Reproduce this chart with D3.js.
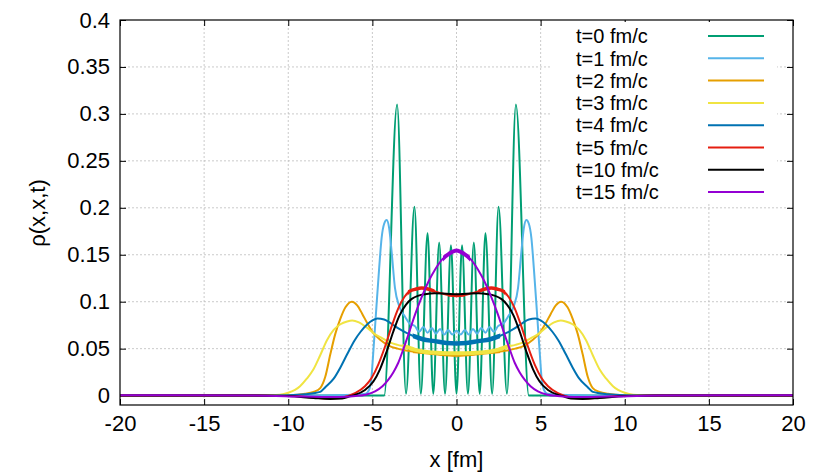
<!DOCTYPE html>
<html>
<head>
<meta charset="utf-8">
<script src="https://cdn.jsdelivr.net/npm/d3@7"></script>
<style>
  html, body { margin: 0; padding: 0; background: #fff; }
  svg { display: block; font-family: "Liberation Sans", Arial, sans-serif; }
</style>
</head>
<body>
<svg id="chart" width="830" height="475"></svg>
<script>
// ---------------- data ----------------
const xTicks = [-20, -15, -10, -5, 0, 5, 10, 15, 20];
const xTickLabels = ["-20", "-15", "-10", "-5", "0", "5", "10", "15", "20"];
const yTicks = [0, 0.05, 0.1, 0.15, 0.2, 0.25, 0.3, 0.35, 0.4];
const yTickLabels = ["0", "0.05", "0.1", "0.15", "0.2", "0.25", "0.3", "0.35", "0.4"];
const seriesNames = ["t=0 fm/c", "t=1 fm/c", "t=2 fm/c", "t=3 fm/c", "t=4 fm/c", "t=5 fm/c", "t=10 fm/c", "t=15 fm/c"];

const rho_t0 = [[-20,0],[-15,0],[-10,0],[-6,0],[-4.3,0],[-3.53,0.31],[-3.0,0.002],[-2.5,0.201],[-2.12,0.002],[-1.72,0.173],[-1.38,0.002],[-1.03,0.163],[-0.68,0.002],[-0.33,0.16],[0,0.002],[0.33,0.16],[0.68,0.002],[1.03,0.163],[1.38,0.002],[1.72,0.173],[2.12,0.002],[2.5,0.201],[3.0,0.002],[3.53,0.31],[4.3,0],[6,0],[10,0],[15,0],[20,0]];

const rho_t1 = [[-20,0],[-10,0],[-6,0.001],[-5.4,0.002],[-5.2,0.006],[-5.05,0.02],[-4.95,0.045],[-4.8,0.084],[-4.6,0.135],[-4.45,0.168],[-4.3,0.183],[-4.15,0.187],[-4.0,0.178],[-3.85,0.152],[-3.66,0.115],[-3.4,0.095],[-3.06,0.084],[-2.8,0.077],[-2.47,0.074],[-2.22,0.068],[-1.97,0.073],[-1.72,0.067],[-1.47,0.072],[-1.22,0.066],[-0.98,0.071],[-0.73,0.065],[-0.49,0.070],[-0.25,0.065],[0,0.069],[0.25,0.065],[0.49,0.070],[0.73,0.065],[0.98,0.071],[1.22,0.066],[1.47,0.072],[1.72,0.067],[1.97,0.073],[2.22,0.068],[2.47,0.074],[2.8,0.077],[3.06,0.084],[3.4,0.095],[3.66,0.115],[3.85,0.152],[4.0,0.178],[4.15,0.187],[4.3,0.183],[4.45,0.168],[4.6,0.135],[4.8,0.084],[4.95,0.045],[5.05,0.02],[5.2,0.006],[5.4,0.002],[6,0.001],[10,0],[20,0]];

const rho_t2 = [[-20,0],[-12,0],[-10,0.0005],[-9,0.002],[-8.5,0.004],[-8.1,0.008],[-7.8,0.02],[-7.5,0.044],[-7.2,0.066],[-6.9,0.082],[-6.6,0.094],[-6.22,0.1],[-5.9,0.096],[-5.6,0.087],[-5.3,0.077],[-5.0,0.068],[-4.5,0.059],[-4.0,0.053],[-3.5,0.05],[-3.0,0.048],[-2.0,0.046],[-1.0,0.044],[0,0.043],[1.0,0.044],[2.0,0.046],[3.0,0.048],[3.5,0.05],[4.0,0.053],[4.5,0.059],[5.0,0.068],[5.3,0.077],[5.6,0.087],[5.9,0.096],[6.22,0.1],[6.6,0.094],[6.9,0.082],[7.2,0.066],[7.5,0.044],[7.8,0.02],[8.1,0.008],[8.5,0.004],[9,0.002],[10,0.0005],[12,0],[20,0]];

const rho_t3 = [[-20,0],[-12,0],[-10.5,0.001],[-10,0.003],[-9.3,0.01],[-8.9,0.018],[-8.5,0.028],[-8.1,0.043],[-7.7,0.059],[-7.3,0.07],[-6.9,0.076],[-6.5,0.079],[-6.2,0.08],[-5.8,0.078],[-5.3,0.072],[-4.9,0.066],[-4.4,0.061],[-4.0,0.057],[-3.5,0.054],[-3.0,0.052],[-2.5,0.049],[-2.0,0.047],[-1.0,0.0455],[0,0.045],[1.0,0.0455],[2.0,0.047],[2.5,0.049],[3.0,0.052],[3.5,0.054],[4.0,0.057],[4.4,0.061],[4.9,0.066],[5.3,0.072],[5.8,0.078],[6.2,0.08],[6.5,0.079],[6.9,0.076],[7.3,0.07],[7.7,0.059],[8.1,0.043],[8.5,0.028],[8.9,0.018],[9.3,0.01],[10,0.003],[10.5,0.001],[12,0],[20,0]];

const rho_t4 = [[-20,0],[-12,0],[-10,0.0005],[-9,0.0015],[-8.1,0.004],[-7.8,0.009],[-7.3,0.018],[-6.9,0.03],[-6.5,0.044],[-6.05,0.059],[-5.7,0.068],[-5.3,0.076],[-5.0,0.08],[-4.7,0.082],[-4.3,0.081],[-3.9,0.077],[-3.4,0.071],[-3.0,0.067],[-2.5,0.063],[-2.0,0.06],[-1.3,0.058],[-0.6,0.056],[0,0.0555],[0.6,0.056],[1.3,0.058],[2.0,0.06],[2.5,0.063],[3.0,0.067],[3.4,0.071],[3.9,0.077],[4.3,0.081],[4.7,0.082],[5.0,0.08],[5.3,0.076],[5.7,0.068],[6.05,0.059],[6.5,0.044],[6.9,0.03],[7.3,0.018],[7.8,0.009],[8.1,0.004],[9,0.0015],[10,0.0005],[12,0],[20,0]];

const rho_t5 = [[-20,0],[-12,0],[-10,-0.0005],[-8.5,-0.002],[-7.6,-0.003],[-6.9,-0.0025],[-6.4,0.0],[-6.0,0.003],[-5.44,0.01],[-5.04,0.019],[-4.65,0.033],[-4.25,0.052],[-3.85,0.074],[-3.46,0.093],[-3.1,0.105],[-2.8,0.111],[-2.4,0.1135],[-2.07,0.1145],[-1.7,0.1135],[-1.28,0.111],[-0.8,0.1085],[-0.4,0.107],[0,0.1065],[0.4,0.107],[0.8,0.1085],[1.28,0.111],[1.7,0.1135],[2.07,0.1145],[2.4,0.1135],[2.8,0.111],[3.1,0.105],[3.46,0.093],[3.85,0.074],[4.25,0.052],[4.65,0.033],[5.04,0.019],[5.44,0.01],[6.0,0.003],[6.4,0.0],[6.9,-0.0025],[7.6,-0.003],[8.5,-0.002],[10,-0.0005],[12,0],[20,0]];

const rho_t10 = [[-20,0],[-12,0],[-10,-0.0005],[-8.5,-0.0025],[-7.5,-0.0035],[-6.8,-0.003],[-6.3,-0.0005],[-6.0,0.001],[-5.44,0.006],[-4.94,0.015],[-4.55,0.028],[-4.15,0.047],[-3.76,0.068],[-3.4,0.085],[-3.0,0.097],[-2.66,0.103],[-2.25,0.1065],[-1.87,0.108],[-1.3,0.109],[-0.6,0.1085],[0,0.108],[0.6,0.1085],[1.3,0.109],[1.87,0.108],[2.25,0.1065],[2.66,0.103],[3.0,0.097],[3.4,0.085],[3.76,0.068],[4.15,0.047],[4.55,0.028],[4.94,0.015],[5.44,0.006],[6.0,0.001],[6.3,-0.0005],[6.8,-0.003],[7.5,-0.0035],[8.5,-0.0025],[10,-0.0005],[12,0],[20,0]];

const rho_t15 = [[-20,0.0005],[-12,0],[-9,-0.001],[-7,-0.0015],[-6,-0.0005],[-5.4,0.001],[-4.84,0.0046],[-4.4,0.01],[-4.05,0.017],[-3.75,0.025],[-3.46,0.035],[-3.15,0.05],[-2.86,0.065],[-2.45,0.087],[-2.07,0.105],[-1.65,0.122],[-1.28,0.134],[-0.85,0.145],[-0.45,0.151],[0,0.1545],[0.45,0.151],[0.85,0.145],[1.28,0.134],[1.65,0.122],[2.07,0.105],[2.45,0.087],[2.86,0.065],[3.15,0.05],[3.46,0.035],[3.75,0.025],[4.05,0.017],[4.4,0.01],[4.84,0.0046],[5.4,0.001],[6,-0.0005],[7,-0.0015],[9,-0.001],[12,0],[20,0.0005]];

const seriesData = [rho_t0, rho_t1, rho_t2, rho_t3, rho_t4, rho_t5, rho_t10, rho_t15];

// ---------------- styles ----------------
const colors = ["#009e73", "#56b4e9", "#e69f00", "#f0e442", "#0072b2", "#e51e10", "#000000", "#9400d3"];
// x-ranges (in fm) where the reference line looks thicker (dense small-scale jitter)
const thickStyle = [
  null, null,
  { ranges: [[-2.6, 2.6]], width: 3 },
  { ranges: [[-3.2, 3.2]], width: 4 },
  { ranges: [[-2.6, 2.6]], width: 4.5 },
  { ranges: [[-2.9, -1.3], [1.3, 2.9], [-0.5, 0.5]], width: 3.5 },
  null,
  { ranges: [[-0.8, 0.8]], width: 4 }
];

const W = 830, H = 475;
const m = { left: 120, right: 37, top: 20, bottom: 70 };
const pw = W - m.left - m.right, ph = H - m.top - m.bottom;

const svg = d3.select("#chart");
svg.append("rect").attr("width", W).attr("height", H).attr("fill", "#fff");

const x = d3.scaleLinear().domain([-20, 20]).range([0, pw]);
const y = d3.scaleLinear().domain([-0.01, 0.4]).range([ph, 0]);

const defs = svg.append("defs");
const g = svg.append("g").attr("transform", `translate(${m.left},${m.top})`);

// grid
const grid = g.append("g").attr("class", "grid");
grid.selectAll("line.gx").data(xTicks.slice(1, -1)).join("line")
  .attr("x1", d => x(d)).attr("x2", d => x(d)).attr("y1", 0).attr("y2", ph)
  .attr("stroke", "#bdbdbd").attr("stroke-width", 0.8).attr("stroke-dasharray", "2,2");
grid.selectAll("line.gy").data(yTicks.slice(0, -1)).join("line")
  .attr("x1", 0).attr("x2", pw).attr("y1", d => y(d)).attr("y2", d => y(d))
  .attr("stroke", "#bdbdbd").attr("stroke-width", 0.8).attr("stroke-dasharray", "2,2");

// axes
const fontSize = 22;
const xAxis = d3.axisBottom(x).tickValues(xTicks).tickSize(-6).tickPadding(10)
  .tickFormat((d, i) => xTickLabels[i]);
const yAxis = d3.axisLeft(y).tickValues(yTicks).tickSize(-6).tickPadding(10)
  .tickFormat((d, i) => yTickLabels[i]);
const gx = g.append("g").attr("transform", `translate(0,${ph})`).call(xAxis);
const gy = g.append("g").call(yAxis);
const gxt = g.append("g").call(d3.axisTop(x).tickValues(xTicks).tickSize(-6).tickFormat(""));
const gyr = g.append("g").attr("transform", `translate(${pw},0)`).call(d3.axisRight(y).tickValues(yTicks).tickSize(-6).tickFormat(""));
[gx, gy, gxt, gyr].forEach(a => {
  a.select(".domain").remove();
  a.selectAll("line").attr("stroke", "#000").attr("stroke-width", 1);
  a.selectAll("text").attr("font-size", fontSize).attr("fill", "#000")
    .attr("font-family", "'Liberation Sans', Arial, sans-serif");
});

// curves
const line = d3.line().x(d => x(d[0])).y(d => y(d[1])).curve(d3.curveMonotoneX);
const curves = g.append("g");
seriesData.forEach((data, i) => {
  curves.append("path").datum(data).attr("d", line)
    .attr("fill", "none").attr("stroke", colors[i]).attr("stroke-width", 2)
    .attr("stroke-linejoin", "round");
  const ts = thickStyle[i];
  if (ts) {
    ts.ranges.forEach((r, k) => {
      const id = `clip-${i}-${k}`;
      // clip rect in the path's own (plot-local) coordinates
      defs.append("clipPath").attr("id", id).append("rect")
        .attr("x", x(r[0])).attr("width", x(r[1]) - x(r[0]))
        .attr("y", -m.top).attr("height", H);
      curves.append("path").datum(data).attr("d", line)
        .attr("clip-path", `url(#${id})`)
        .attr("fill", "none").attr("stroke", colors[i]).attr("stroke-width", ts.width)
        .attr("stroke-linejoin", "round");
    });
  }
});

// frame
g.append("rect").attr("x", 0).attr("y", 0).attr("width", pw).attr("height", ph)
  .attr("fill", "none").attr("stroke", "#000").attr("stroke-width", 1.2);

// legend (opaque box)
const legendFont = 20;
const leg = svg.append("g");
leg.append("rect").attr("x", 552).attr("y", 22).attr("width", 225).attr("height", 182).attr("fill", "#fff");
const rowY0 = 36, rowDy = 22.3;
seriesNames.forEach((name, i) => {
  const yy = rowY0 + i * rowDy;
  leg.append("text").attr("x", 576).attr("y", yy).attr("dy", "0.36em")
    .attr("font-size", legendFont).attr("fill", "#000").text(name);
  leg.append("line").attr("x1", 708).attr("x2", 764).attr("y1", yy).attr("y2", yy)
    .attr("stroke", colors[i]).attr("stroke-width", 2);
});

// axis titles
svg.append("text").attr("x", m.left + pw / 2).attr("y", 467).attr("text-anchor", "middle")
  .attr("font-size", fontSize).attr("fill", "#000").text("x [fm]");
svg.append("text").attr("transform", "translate(45,213) rotate(-90)").attr("text-anchor", "middle")
  .attr("font-size", fontSize).attr("fill", "#000").text("ρ(x,x,t)");
</script>
</body>
</html>
